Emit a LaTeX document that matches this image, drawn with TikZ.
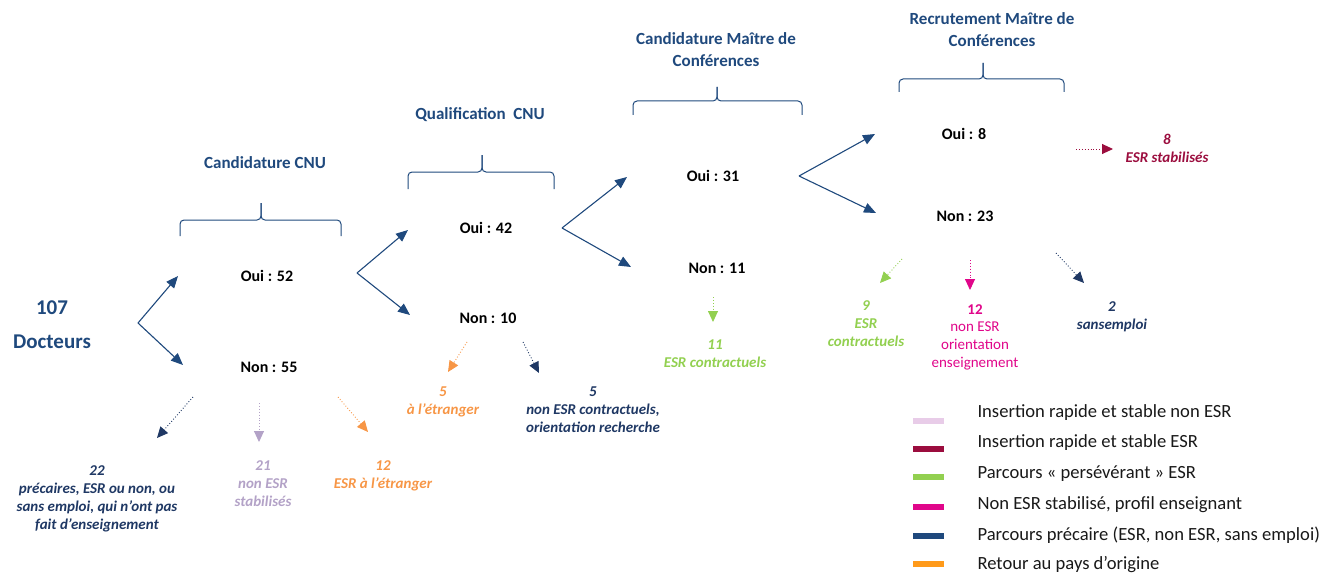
\documentclass[tikz,border=0pt]{standalone}
\usepackage{fontspec}
\setmainfont{Carlito}
\usetikzlibrary{arrows.meta}

\definecolor{bleu}{HTML}{1F497D}
\definecolor{marine}{HTML}{1F3864}
\definecolor{lavande}{HTML}{B3A2C7}
\definecolor{orangeF}{HTML}{F79646}
\definecolor{vert}{HTML}{92D050}
\definecolor{rose}{HTML}{E0068A}
\definecolor{bordeaux}{HTML}{9B0D3E}
\definecolor{rosepale}{HTML}{E8CCE8}
\definecolor{orangeleg}{HTML}{FF9A1A}

\tikzset{
	fleche/.style={draw=bleu, line width=1.1pt, -{Triangle[length=12pt,width=10pt]}},
	pointille/.style={dotted, line width=0.9pt, -{Triangle[length=11pt,width=10pt]}},
	accolade/.style={draw=bleu, line width=1pt, rounded corners=4pt},
	titre/.style={text=bleu, font=\bfseries\fontsize{17}{22}\selectfont, align=center},
	choix/.style={font=\bfseries\fontsize{16}{19}\selectfont},
	issue/.style={font=\bfseries\itshape\fontsize{15}{18}\selectfont, align=center},
	legende/.style={anchor=west, text=black!90, font=\fontsize{18.6}{21}\selectfont},
	trait/.style={line width=5.5pt},
}

\begin{document}
\begin{tikzpicture}[x=1pt,y=-1pt]
	\useasboundingbox (0,0) rectangle (1338,575);

	\node[text=bleu, font=\bfseries\fontsize{21}{34}\selectfont, align=center] (docteurs) at (52,325) {107\\Docteurs};

	\node[titre] (tCandCNU) at (265,163) {Candidature CNU};
	\node[titre] (tQualif) at (480,115) {Qualification\ \ CNU};
	\node[titre] (tCandMCF) at (716,50) {Candidature Ma\^{\i}tre de\\Conf\'erences};
	\node[titre] (tRecrut) at (992,30) {Recrutement Ma\^{\i}tre de\\Conf\'erences};

	\draw[accolade] (180,236)--(180,220)--(261,220)--(261,203);
	\draw[accolade] (341,236)--(341,220)--(261,220)--(261,203);
	\draw[accolade] (408,189)--(408,172)--(482,172)--(482,155);
	\draw[accolade] (554,189)--(554,172)--(482,172)--(482,155);
	\draw[accolade] (633,115)--(633,101)--(717,101)--(717,87);
	\draw[accolade] (802,115)--(802,101)--(717,101)--(717,87);
	\draw[accolade] (899,92)--(899,79)--(983,79)--(983,63);
	\draw[accolade] (1064,92)--(1064,79)--(983,79)--(983,63);

	\node[choix] (oui52) at (267,276) {Oui : 52};
	\node[choix] (non55) at (269,367) {Non : 55};
	\node[choix] (oui42) at (486,228) {Oui : 42};
	\node[choix] (non10) at (488,318) {Non : 10};
	\node[choix] (oui31) at (713,176) {Oui : 31};
	\node[choix] (non11) at (717,268) {Non : 11};
	\node[choix] (oui8) at (964,134) {Oui : 8};
	\node[choix] (non23) at (965,216) {Non : 23};

	\coordinate (b0) at (138,323);
	\coordinate (b0h) at (178,276);
	\coordinate (b0b) at (183,365);
	\coordinate (b1) at (357,273);
	\coordinate (b1h) at (408,230);
	\coordinate (b1b) at (410,315);
	\coordinate (b2) at (562,228);
	\coordinate (b2h) at (627,177);
	\coordinate (b2b) at (631,267);
	\coordinate (b3) at (799,176);
	\coordinate (b3h) at (875,134);
	\coordinate (b3b) at (876,213);

	\draw[fleche] (b0)--(b0h);
	\draw[fleche] (b0)--(b0b);
	\draw[fleche] (b1)--(b1h);
	\draw[fleche] (b1)--(b1b);
	\draw[fleche] (b2)--(b2h);
	\draw[fleche] (b2)--(b2b);
	\draw[fleche] (b3)--(b3h);
	\draw[fleche] (b3)--(b3b);

	\node[issue, text=marine] (lab22) at (97,499) {22\\pr\'ecaires, ESR ou non, ou\\sans emploi, qui n'ont pas\\fait d'enseignement};
	\node[issue, text=lavande] (lab21) at (263,484) {21\\non ESR\\stabilis\'es};
	\node[issue, text=orangeF] (lab12e) at (383,476) {12\\ESR \`a l'\'etranger};
	\node[issue, text=orangeF] (lab5e) at (443,402) {5\\\`a l'\'etranger};
	\node[issue, text=marine] (lab5n) at (593,410) {5\\non ESR contractuels,\\orientation recherche};
	\node[issue, text=vert] (lab11) at (715,354) {11\\ESR contractuels};
	\node[issue, text=vert] (lab9) at (866,324) {9\\ESR\\contractuels};
	\node[text=rose, font=\fontsize{15}{17.7}\selectfont, align=center] (lab12n) at (975,337) {{\bfseries 12}\\non ESR\\orientation\\enseignement};
	\node[issue, text=marine] (lab2) at (1112,317) {2\\sansemploi};
	\node[issue, text=bordeaux] (lab8) at (1167,148) {8\\ESR stabilis\'es};

	\coordinate (d1) at (193,397);
	\coordinate (d1f) at (157,438);
	\coordinate (d2) at (259,403);
	\coordinate (d2f) at (259,442);
	\coordinate (d3) at (338,397);
	\coordinate (d3f) at (368,432);
	\coordinate (d4) at (467,342);
	\coordinate (d4f) at (448,372);
	\coordinate (d5) at (523,342);
	\coordinate (d5f) at (539,373);
	\coordinate (d6) at (713,297);
	\coordinate (d6f) at (713,322);
	\coordinate (d7) at (1076,149);
	\coordinate (d7f) at (1113,149);
	\coordinate (d8) at (902,259);
	\coordinate (d8f) at (880,283);
	\coordinate (d9) at (970,260);
	\coordinate (d9f) at (970,290);
	\coordinate (d10) at (1056,253);
	\coordinate (d10f) at (1084,283);

	\draw[pointille, marine] (d1)--(d1f);
	\draw[pointille, lavande] (d2)--(d2f);
	\draw[pointille, orangeF] (d3)--(d3f);
	\draw[pointille, orangeF] (d4)--(d4f);
	\draw[pointille, marine] (d5)--(d5f);
	\draw[pointille, vert] (d6)--(d6f);
	\draw[pointille, bordeaux] (d7)--(d7f);
	\draw[pointille, vert] (d8)--(d8f);
	\draw[pointille, rose] (d9)--(d9f);
	\draw[pointille, marine] (d10)--(d10f);

	\draw[trait, rosepale] (913,421)--(944,421);
	\draw[trait, bordeaux] (913,449)--(944,449);
	\draw[trait, vert] (913,477)--(944,477);
	\draw[trait, rose] (913,507)--(944,507);
	\draw[trait, bleu] (913,536)--(944,536);
	\draw[trait, orangeleg] (913,564)--(944,564);

	\node[legende] (leg1) at (974,413) {Insertion rapide et stable non ESR};
	\node[legende] (leg2) at (974,443) {Insertion rapide et stable ESR};
	\node[legende] (leg3) at (974,474) {Parcours \guillemotleft\ pers\'ev\'erant \guillemotright\ ESR};
	\node[legende] (leg4) at (974,505) {Non ESR stabilis\'e, profil enseignant};
	\node[legende] (leg5) at (974,535) {Parcours pr\'ecaire (ESR, non ESR, sans emploi)};
	\node[legende] (leg6) at (974,565) {Retour au pays d'origine};
\end{tikzpicture}
\end{document}
